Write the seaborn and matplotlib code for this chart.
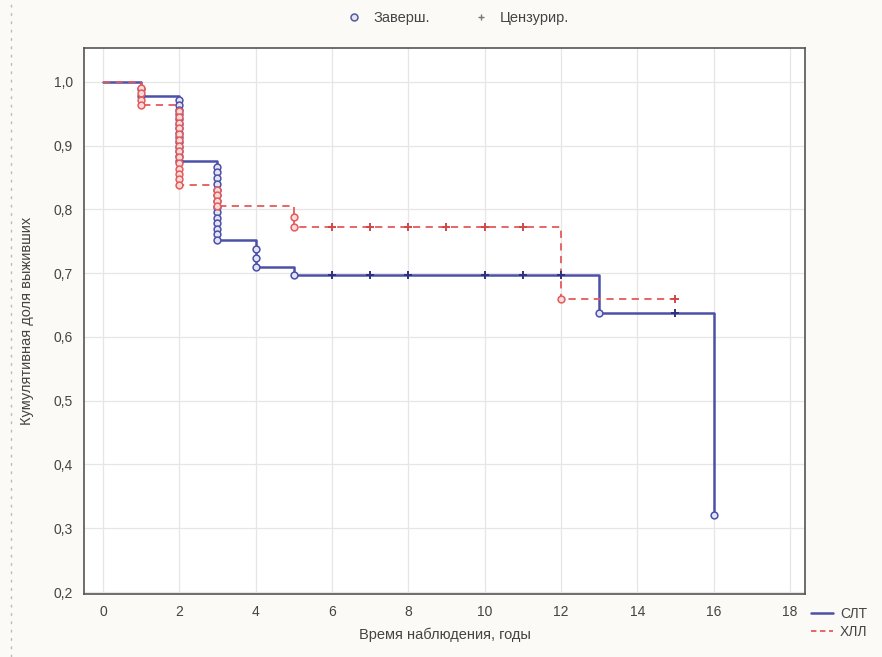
import matplotlib
matplotlib.use("Agg")
import matplotlib.pyplot as plt
from matplotlib.lines import Line2D
import seaborn as sns
import pandas as pd

# ---- data ----
slt_step_t = [0, 1, 2, 3, 4, 5, 13, 16]
slt_step_s = [1.0, 0.978, 0.876, 0.752, 0.710, 0.697, 0.638, 0.320]
xll_step_t = [0, 1, 2, 3, 5, 12, 15]
xll_step_s = [1.0, 0.963, 0.838, 0.805, 0.772, 0.660, 0.660]

slt_event_t = [1, 1] + [2] * 14 + [3] * 14 + [4, 4, 4, 5, 13, 16]
slt_event_s = [0.989, 0.978,
               0.971, 0.964, 0.956, 0.949, 0.942, 0.934, 0.927, 0.920, 0.913, 0.905, 0.898, 0.891, 0.883, 0.876,
               0.867, 0.858, 0.849, 0.840, 0.831, 0.822, 0.813, 0.804, 0.796, 0.787, 0.778, 0.769, 0.761, 0.752,
               0.738, 0.724, 0.710, 0.697, 0.638, 0.320]
xll_event_t = [1, 1, 1, 1] + [2] * 14 + [3] * 4 + [5, 5, 12]
xll_event_s = [0.991, 0.982, 0.972, 0.963,
               0.954, 0.945, 0.936, 0.927, 0.918, 0.909, 0.900, 0.891, 0.882, 0.873, 0.864, 0.856, 0.847, 0.838,
               0.830, 0.822, 0.813, 0.805,
               0.788, 0.772, 0.660]
slt_cens_t = [6, 7, 8, 10, 11, 12, 15]
slt_cens_s = [0.697, 0.697, 0.697, 0.697, 0.697, 0.697, 0.638]
xll_cens_t = [6, 7, 8, 9, 10, 11, 15]
xll_cens_s = [0.772, 0.772, 0.772, 0.772, 0.772, 0.772, 0.660]

x_ticks = [0, 2, 4, 6, 8, 10, 12, 14, 16, 18]
y_ticks = [0.2, 0.3, 0.4, 0.5, 0.6, 0.7, 0.8, 0.9, 1.0]
y_tick_labels = ["0,2", "0,3", "0,4", "0,5", "0,6", "0,7", "0,8", "0,9", "1,0"]
group_names = ["СЛТ", "ХЛЛ"]

BLUE = "#4c50a8"
RED = "#e55a5a"

sns.set_theme(style="white")
plt.rcParams["font.family"] = ["Liberation Sans", "DejaVu Sans"]

fig = plt.figure(figsize=(8.82, 6.57), dpi=100, facecolor="#fbfaf6")
ax = fig.add_axes([0.095, 0.096, 0.818, 0.831])
ax.set_facecolor("white")

slt_df = pd.DataFrame({"t": slt_step_t, "s": slt_step_s})
xll_df = pd.DataFrame({"t": xll_step_t, "s": xll_step_s})

sns.lineplot(data=slt_df, x="t", y="s", ax=ax, color=BLUE, lw=1.8,
             drawstyle="steps-post", sort=False, estimator=None, zorder=3)
sns.lineplot(data=xll_df, x="t", y="s", ax=ax, color=RED, lw=1.3, linestyle=(0, (4, 3)),
             drawstyle="steps-post", sort=False, estimator=None, zorder=4)

sns.scatterplot(x=slt_event_t, y=slt_event_s, ax=ax, marker="o", s=24,
                facecolor="#e4e5f4", edgecolor=BLUE, linewidth=1.1, zorder=5)
sns.scatterplot(x=xll_event_t, y=xll_event_s, ax=ax, marker="o", s=24,
                facecolor="#f8dcdc", edgecolor=RED, linewidth=1.1, zorder=6)
sns.scatterplot(x=slt_cens_t, y=slt_cens_s, ax=ax, marker="+", s=36,
                color="#2e3280", linewidth=1.4, zorder=6)
sns.scatterplot(x=xll_cens_t, y=xll_cens_s, ax=ax, marker="+", s=36,
                color="#d04848", linewidth=1.4, zorder=6)

ax.set_xlim(-0.5, 18.4)
ax.set_ylim(0.197, 1.053)
ax.set_xticks(x_ticks)
ax.set_xticklabels([str(v) for v in x_ticks])
ax.set_yticks(y_ticks)
ax.set_yticklabels(y_tick_labels)
ax.grid(True, color="#e6e6e6", lw=0.9)
ax.tick_params(axis="both", labelsize=10, colors="#444444", length=3, direction="in", pad=8)
ax.set_xlabel("Время наблюдения, годы", fontsize=10.5, color="#444444", labelpad=6)
ax.set_ylabel("Кумулятивная доля выживших", fontsize=10.5, color="#444444", labelpad=14)
for sp in ax.spines.values():
    sp.set_color("#555555")
    sp.set_linewidth(1.2)

# top legend (marker types)
h1 = Line2D([], [], marker="o", ls="none", markersize=5, markerfacecolor="#e4e5f4",
            markeredgecolor="#555a9a", markeredgewidth=1.1)
h2 = Line2D([], [], marker="+", ls="none", markersize=5, color="#777777", markeredgewidth=1.0)
fig.legend([h1, h2], ["Заверш.", "Цензурир."], loc="center", bbox_to_anchor=(0.515, 0.972),
           ncol=2, frameon=False, fontsize=10.5, handletextpad=0.3, columnspacing=2.5,
           labelcolor="#444444")

# bottom-right legend (groups)
g1 = Line2D([], [], color=BLUE, lw=1.8)
g2 = Line2D([], [], color=RED, lw=1.3, linestyle=(0, (3, 2)))
fig.legend([g1, g2], group_names, loc="center left", bbox_to_anchor=(0.905, 0.052),
           frameon=False, fontsize=10, handlelength=1.6, handletextpad=0.5,
           labelspacing=0.3, labelcolor="#444444")

# dotted left edge line
fig.add_artist(Line2D([0.012, 0.012], [0.0, 1.0], transform=fig.transFigure,
                      color="#bbbbbb", lw=1.0, ls=(0, (2, 4))))

fig.savefig("out.png", dpi=100, facecolor=fig.get_facecolor())
